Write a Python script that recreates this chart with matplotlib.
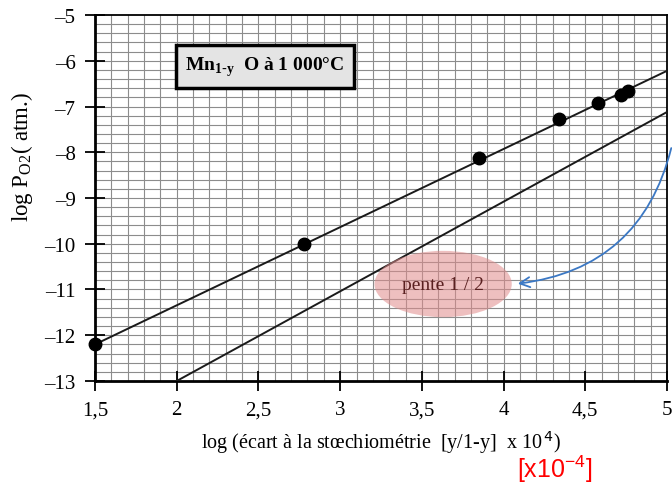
import numpy as np
import matplotlib
matplotlib.use("Agg")
import matplotlib.pyplot as plt
from matplotlib.patches import Ellipse

plt.rcParams['font.family'] = ['Liberation Serif', 'DejaVu Serif']

# points mesurés
x_pts = [1.5, 2.78, 3.85, 4.34, 4.58, 4.72, 4.76]
y_pts = [-12.2, -10.0, -8.12, -7.27, -6.92, -6.75, -6.67]

# droites tracées
line1_x = [1.5, 5.0]
line1_y = [-12.2, -6.22]
line2_x = [2.0, 5.0]
line2_y = [-13.0, -7.12]

xticks = [1.5, 2, 2.5, 3, 3.5, 4, 4.5, 5]
xlabels = ["1,5", "2", "2,5", "3", "3,5", "4", "4,5", "5"]
yticks = [-5, -6, -7, -8, -9, -10, -11, -12, -13]
ylabels = ["\u2013" + str(-v) for v in yticks]

fig = plt.figure(figsize=(6.72, 4.85), dpi=100)
ax = fig.add_axes([0.1414, 0.2124, 0.8512, 0.7546])
ax.set_xlim(1.5, 5)
ax.set_ylim(-13, -5)

# papier millimétré
for v in np.arange(1.6, 5.0, 0.1):
    ax.axvline(v, color='#8c8c8c', lw=0.8, zorder=0)
for v in np.arange(-12.8, -5.0, 0.2):
    ax.axhline(v, color='#8c8c8c', lw=0.8, zorder=0)

ax.plot(line1_x, line1_y, color='#1a1a1a', lw=1.4, zorder=3)
ax.plot(line2_x, line2_y, color='#1a1a1a', lw=1.4, zorder=3)
ax.plot(x_pts, y_pts, 'o', color='black', ms=9, zorder=4, clip_on=False)

ax.set_xticks(xticks)
ax.set_xticklabels(xlabels)
ax.set_yticks(yticks)
ax.set_yticklabels(ylabels)
ax.tick_params(direction='inout', length=14, width=1.3, labelsize=15, pad=7)
for s in ax.spines.values():
    s.set_linewidth(1.3)
ax.spines['left'].set_linewidth(2)
ax.spines['bottom'].set_linewidth(2)

ax.set_xlabel("log (écart à la stœchiométrie  [y/1-y]  x 10$^{\\,4}$)", fontsize=14.5)
ax.set_ylabel("log P$_{\\mathregular{O2}}$( atm.)", fontsize=16.5)
ax.xaxis.set_label_coords(0.5, -0.128)
ax.yaxis.set_label_coords(-0.105, 0.615)

# cadre titre
ax.text(2.54, -6.12, "Mn$_{\\mathregular{1\\text{-}y}}$  O à 1 000°C", fontsize=14, fontweight='bold',
        ha='center', va='center', zorder=6,
        bbox=dict(boxstyle='square,pad=0.5', facecolor='#e4e4e4', edgecolor='black', linewidth=2.5))

# ellipse pente
ell = Ellipse((3.63, -10.88), 0.84, 1.45, facecolor='#e08c8c', edgecolor='none', alpha=0.55, zorder=5)
ax.add_patch(ell)
ax.text(3.63, -10.88, "pente 1 / 2", fontsize=14, color='#5a2020', ha='center', va='center', zorder=6)

ax.annotate("", xy=(4.07, -10.88), xytext=(5.03, -7.85),
            arrowprops=dict(arrowstyle='->', color='#3b78c4', lw=1.3, mutation_scale=18,
                            connectionstyle='arc3,rad=-0.35'),
            annotation_clip=False, zorder=6)

fig.text(0.826, 0.033, "[x10$^{\\mathregular{-4}}$]", color='red', fontsize=18, ha='center', va='center',
         family=['Liberation Sans', 'DejaVu Sans'])

fig.savefig("out.png", dpi=100)
